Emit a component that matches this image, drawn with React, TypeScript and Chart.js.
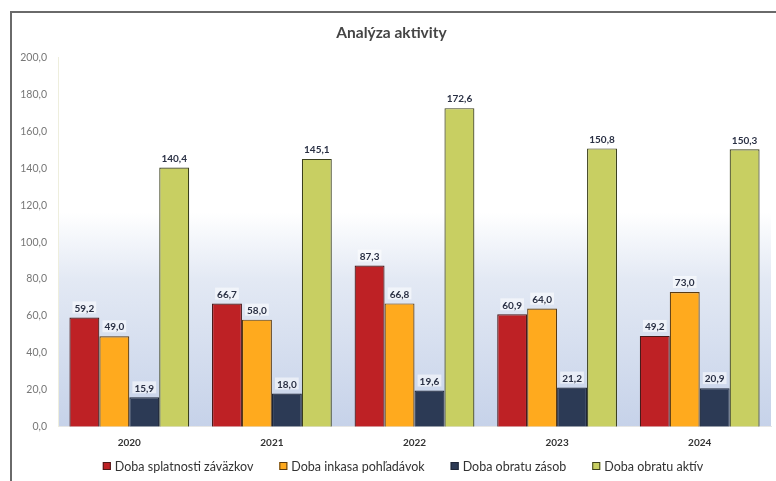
import React, { useEffect, useRef } from "react";
import { Chart, registerables } from "chart.js";

Chart.register(...registerables);

const categories = ["2020", "2021", "2022", "2023", "2024"];
const seriesNames = [
  "Doba splatnosti záväzkov",
  "Doba inkasa pohľadávok",
  "Doba obratu zásob",
  "Doba obratu aktív",
];
const splatnostZavazkov = [59.2, 66.7, 87.3, 60.9, 49.2];
const inkasaPohladavok = [49.0, 58.0, 66.8, 64.0, 73.0];
const obratuZasob = [15.9, 18.0, 19.6, 21.2, 20.9];
const obratuAktiv = [140.4, 145.1, 172.6, 150.8, 150.3];
const yTicks = [0, 20, 40, 60, 80, 100, 120, 140, 160, 180, 200];

const fillColors = ["#BE2125", "#FFAA1E", "#2C3A55", "#C8CF62"];
const borderColors = ["#4a1a1a", "#5a3a10", "#1e2638", "#3b3f1c"];

const FONT = "Lato, 'Open Sans', sans-serif";
const fmt = (v: number) => v.toFixed(1).replace(".", ",");

const bgPlugin = {
  id: "plotBg",
  beforeDraw(chart: any) {
    const { ctx, chartArea } = chart;
    if (!chartArea) return;
    const g = ctx.createLinearGradient(0, chartArea.top, 0, chartArea.bottom);
    g.addColorStop(0, "#ffffff");
    g.addColorStop(0.42, "#ffffff");
    g.addColorStop(0.6, "#e3e9f4");
    g.addColorStop(1, "#c6d2e9");
    ctx.save();
    ctx.fillStyle = g;
    ctx.fillRect(chartArea.left, chartArea.top, chartArea.right - chartArea.left, chartArea.bottom - chartArea.top);
    ctx.restore();
  },
};

const labelPlugin = {
  id: "valueLabels",
  afterDatasetsDraw(chart: any) {
    const { ctx } = chart;
    ctx.save();
    ctx.font = `bold 10px ${FONT}`;
    ctx.textAlign = "center";
    ctx.textBaseline = "bottom";
    chart.data.datasets.forEach((ds: any, di: number) => {
      const meta = chart.getDatasetMeta(di);
      meta.data.forEach((bar: any, i: number) => {
        const txt = fmt(ds.data[i]);
        const w = ctx.measureText(txt).width;
        const y = bar.y - 4;
        ctx.fillStyle = "rgba(255,255,255,0.55)";
        ctx.fillRect(bar.x - w / 2 - 2, y - 12, w + 4, 12);
        ctx.fillStyle = "#2a3044";
        ctx.fillText(txt, bar.x, y);
      });
    });
    ctx.restore();
  },
};

const legendPlugin = {
  id: "customLegend",
  afterDraw(chart: any) {
    const { ctx } = chart;
    const centerX = 391;
    const cy = 453;
    const box = 8;
    const boxGap = 4;
    const itemGap = 26;
    ctx.save();
    ctx.font = `12.5px ${FONT}`;
    ctx.textBaseline = "middle";
    ctx.textAlign = "left";
    const items = chart.data.datasets.map((ds: any) => ({
      text: ds.label,
      fill: ds.backgroundColor,
      stroke: ds.borderColor,
      w: box + boxGap + ctx.measureText(ds.label).width,
    }));
    const total = items.reduce((s: number, it: any) => s + it.w, 0) + itemGap * (items.length - 1);
    let x = centerX - total / 2;
    items.forEach((it: any) => {
      ctx.fillStyle = it.fill;
      ctx.fillRect(x, cy - box / 2, box, box);
      ctx.strokeStyle = it.stroke;
      ctx.lineWidth = 1;
      ctx.strokeRect(x + 0.5, cy - box / 2 + 0.5, box - 1, box - 1);
      ctx.fillStyle = "#333333";
      ctx.fillText(it.text, x + box + boxGap, cy + 0.5);
      x += it.w + itemGap;
    });
    ctx.restore();
  },
};

export default function App() {
  const ref = useRef<HTMLCanvasElement>(null);
  useEffect(() => {
    document.body.style.margin = "0";
    const values = [splatnostZavazkov, inkasaPohladavok, obratuZasob, obratuAktiv];
    const chart = new Chart(ref.current as HTMLCanvasElement, {
      type: "bar",
      data: {
        labels: categories,
        datasets: seriesNames.map((name, i) => ({
          label: name,
          data: values[i],
          backgroundColor: fillColors[i],
          borderColor: borderColors[i],
          borderWidth: 1.2,
          categoryPercentage: 0.84,
          barPercentage: 1,
        })),
      },
      options: {
        animation: false,
        responsive: false,
        devicePixelRatio: 1,
        layout: { padding: { left: 0, right: 5, top: 0, bottom: 28.3 } },
        plugins: {
          title: {
            display: true,
            text: "Analýza aktivity",
            color: "#454545",
            font: { family: FONT, size: 15.5, weight: "bold" },
            padding: { top: 11, bottom: 15 },
          },
          legend: { display: false },
          tooltip: { enabled: false },
        },
        scales: {
          x: {
            grid: { display: false, drawTicks: false },
            border: { display: true, color: "#e6e6e6" },
            ticks: {
              color: "#333333",
              font: { family: FONT, size: 10, weight: "bold" },
              padding: 10,
            },
            afterFit: (s: any) => {
              s.height = 26;
            },
          },
          y: {
            min: 0,
            max: 200,
            afterBuildTicks: (s: any) => {
              s.ticks = yTicks.map((v) => ({ value: v }));
            },
            grid: { display: false, drawTicks: false },
            border: { display: true, color: "#eeeedd" },
            ticks: {
              color: "#777777",
              font: { family: FONT, size: 10.5 },
              padding: 11,
              callback: (v: any) => fmt(Number(v)),
            },
            afterFit: (s: any) => {
              s.width = 46;
            },
          },
        },
      },
      plugins: [bgPlugin, labelPlugin, legendPlugin],
    });
    return () => chart.destroy();
  }, []);
  return (
    <div style={{ position: "relative", width: 776, height: 481, background: "#fff", overflow: "hidden" }}>
      <div
        style={{
          position: "absolute",
          left: 10,
          top: 11,
          width: 780,
          height: 480,
          borderLeft: "2px solid #6a6a6a",
          borderTop: "2px solid #6a6a6a",
        }}
      />
      <canvas ref={ref} width={764} height={468} style={{ position: "absolute", left: 12, top: 13 }} />
    </div>
  );
}
